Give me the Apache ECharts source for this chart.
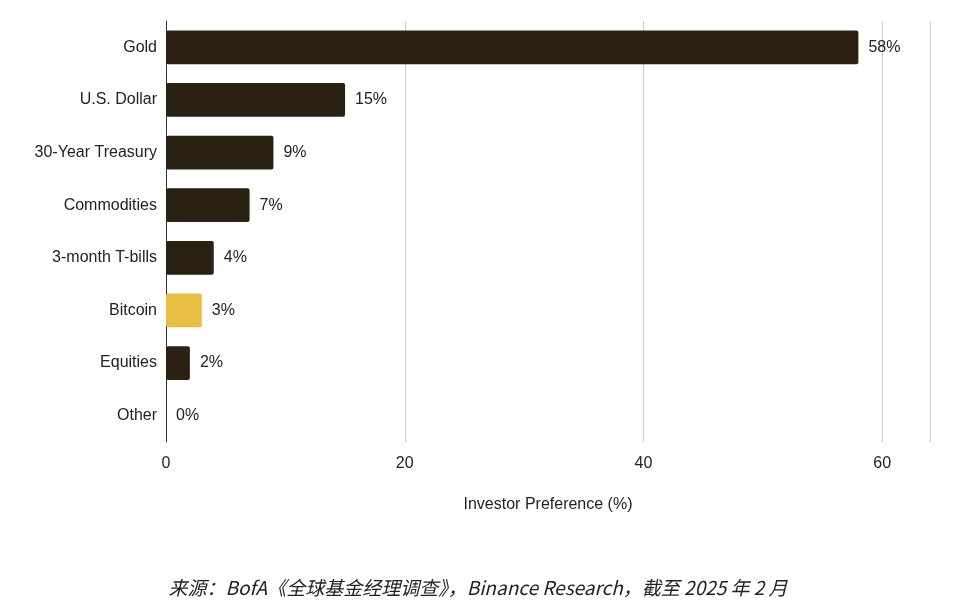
<!DOCTYPE html>
<html>
<head>
<meta charset="UTF-8">
<title>chart</title>
<style>body{margin:0;background:#fff}</style>
</head>
<body>
<div id="chart" style="width:956px;height:610px"></div>
<script src="https://cdn.jsdelivr.net/npm/echarts@6/dist/echarts.min.js"></script>
<script>
var categories = ['Gold', 'U.S. Dollar', '30-Year Treasury', 'Commodities', '3-month T-bills', 'Bitcoin', 'Equities', 'Other'];
var values = [58, 15, 9, 7, 4, 3, 2, 0];
var highlight = 'Bitcoin';
var xTicks = [0, 20, 40, 60];

var chart = echarts.init(document.getElementById('chart'));
chart.setOption({
  grid: { left: 166, right: 26, top: 21, bottom: 168 },
  xAxis: {
    type: 'value', min: 0, max: 64, interval: 20,
    name: 'Investor Preference (%)', nameLocation: 'middle', nameGap: 55,
    nameTextStyle: { fontFamily: 'Arial, Liberation Sans', fontSize: 16, color: '#222' },
    axisLabel: {
      fontFamily: 'Arial, Liberation Sans', fontSize: 16, color: '#222', margin: 14,
      formatter: function (v) { return xTicks.indexOf(v) >= 0 ? v : ''; }
    },
    axisLine: { show: false }, axisTick: { show: false },
    splitLine: { lineStyle: { color: '#ccc', width: 1 } }
  },
  yAxis: {
    type: 'category', data: categories, inverse: true,
    axisLabel: { fontFamily: 'Arial, Liberation Sans', fontSize: 16, color: '#222', margin: 9 },
    axisLine: { lineStyle: { color: '#333' } }, axisTick: { show: false }
  },
  series: [{
    type: 'bar', barWidth: '64%',
    data: values.map(function (v, i) {
      return { value: v, itemStyle: { color: categories[i] === highlight ? '#e8bf45' : '#2a2113', borderRadius: 2 } };
    }),
    label: {
      show: true, position: 'right', distance: 10, formatter: '{c}%',
      fontFamily: 'Arial, Liberation Sans', fontSize: 16, color: '#222'
    }
  }],
  graphic: [{
    type: 'text', left: 'center', top: 578,
    style: {
      text: '来源：BofA《全球基金经理调查》，Binance Research，截至 2025 年 2 月',
      font: 'italic 19px "Noto Sans CJK SC", Arial', fill: '#222'
    }
  }]
});
</script>
</body>
</html>
